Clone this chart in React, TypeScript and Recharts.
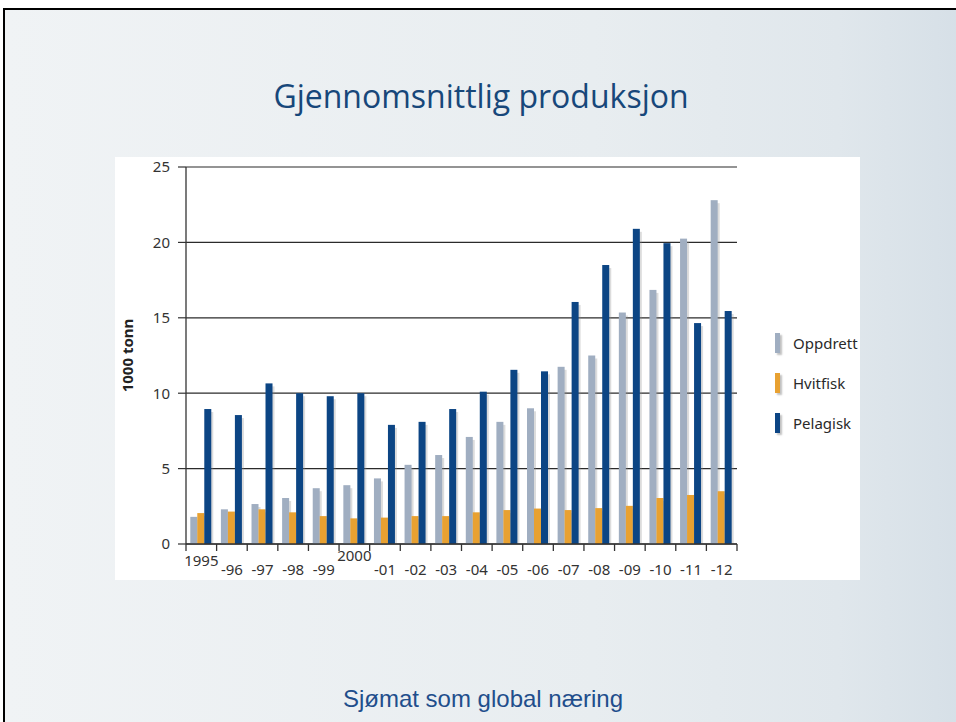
import React from 'react';
import { BarChart, Bar, XAxis, YAxis, CartesianGrid, Legend } from 'recharts';

const categories = ['1995', '-96', '-97', '-98', '-99', '2000', '-01', '-02', '-03', '-04', '-05', '-06', '-07', '-08', '-09', '-10', '-11', '-12'];
const oppdrett = [1.8, 2.3, 2.65, 3.05, 3.7, 3.9, 4.35, 5.25, 5.9, 7.1, 8.1, 9.0, 11.75, 12.5, 15.35, 16.85, 20.25, 22.8];
const hvitfisk = [2.05, 2.15, 2.3, 2.1, 1.85, 1.7, 1.75, 1.85, 1.85, 2.1, 2.25, 2.35, 2.25, 2.38, 2.53, 3.05, 3.25, 3.5];
const pelagisk = [8.95, 8.55, 10.65, 10.0, 9.8, 10.0, 7.9, 8.1, 8.95, 10.1, 11.55, 11.45, 16.05, 18.5, 20.9, 19.95, 14.65, 15.45];
const yTicks = [0, 5, 10, 15, 20, 25];
const raisedLabels = ['1995', '2000'];

const seriesNames = ['Oppdrett', 'Hvitfisk', 'Pelagisk'];
const seriesColors = ['#a0aec1', '#e8a131', '#0c4584'];

const data = categories.map((c, i) => ({
  year: c,
  Oppdrett: oppdrett[i],
  Hvitfisk: hvitfisk[i],
  Pelagisk: pelagisk[i],
}));

const FONT = '"Noto Sans", "Open Sans", sans-serif';

const ShadowBar = (props: any) => {
  const { x, y, width, height, fill } = props;
  if (!height || height <= 0) return null;
  return (
    <g>
      <rect x={x + 2} y={y + 3} width={width} height={Math.max(0, height - 3)} fill="#8c8c8c" opacity={0.3} />
      <rect x={x} y={y} width={width} height={height} fill={fill} />
    </g>
  );
};

const XTick = (props: any) => {
  const { x, y, payload, index } = props;
  const off = payload && typeof payload.offset === 'number' && payload.offset > 0 ? payload.offset : 15.3;
  const label = String(payload.value);
  const raised = raisedLabels.includes(label);
  const dy = label === '1995' ? 22 : raised ? 17 : 31;
  return (
    <g>
      {index === 0 && <line x1={x - off} x2={x - off} y1={y} y2={y + 7} stroke="#333" strokeWidth={1.3} />}
      <line x1={x + off} x2={x + off} y1={y} y2={y + 7} stroke="#333" strokeWidth={1.3} />
      <text x={x} y={y + dy} textAnchor="middle" fontSize={15} fontFamily={FONT} fill="#333">
        {label}
      </text>
    </g>
  );
};

const LegendContent = () => (
  <div style={{ fontFamily: FONT, fontSize: 15, color: '#2a2a2a' }}>
    {seriesNames.map((n, i) => (
      <div key={n} style={{ display: 'flex', alignItems: 'center', height: 40 }}>
        <div style={{ width: 5, height: 20, background: seriesColors[i], boxShadow: '2px 2px 2px rgba(0,0,0,0.25)', marginRight: 13 }} />
        <span>{n}</span>
      </div>
    ))}
  </div>
);

export default function App() {
  return (
    <div style={{ position: 'absolute', left: 0, top: 0, width: 956, height: 722, overflow: 'hidden', background: '#ffffff' }}>
      <div
        style={{
          position: 'absolute',
          left: 3,
          top: 8,
          width: 980,
          height: 740,
          borderLeft: '2px solid #000',
          borderTop: '2px solid #000',
          background: 'linear-gradient(90deg, #f0f3f5 0%, #e8edf0 60%, #e0e7ec 85%, #d4dee6 100%)',
        }}
      />
      <div
        style={{
          position: 'absolute',
          left: 0,
          width: 962,
          top: 74,
          textAlign: 'center',
          fontFamily: '"Comic Sans MS", "Open Sans", sans-serif',
          fontSize: 32,
          color: '#17477a',
        }}
      >
        Gjennomsnittlig produksjon
      </div>
      <div style={{ position: 'absolute', left: 115, top: 157, width: 745, height: 423, background: '#ffffff' }}>
        <BarChart
          width={745}
          height={423}
          data={data}
          margin={{ top: 10, right: 33, left: 0, bottom: 0 }}
          barCategoryGap="14%"
          barGap={0}
        >
          <CartesianGrid horizontal={true} vertical={false} stroke="#2b2b2b" strokeWidth={1.2} />
          <XAxis
            dataKey="year"
            height={36}
            tickSize={0}
            tickMargin={0}
            tickLine={false}
            interval={0}
            axisLine={{ stroke: '#333', strokeWidth: 1.3 }}
            tick={<XTick />}
          />
          <YAxis
            width={71}
            domain={[0, 25]}
            ticks={yTicks}
            interval={0}
            tickSize={8}
            tickMargin={8}
            axisLine={{ stroke: '#333', strokeWidth: 1.3 }}
            tickLine={{ stroke: '#333', strokeWidth: 1.2 }}
            tick={{ fontSize: 15, fontFamily: FONT, fill: '#333' }}
            label={{
              value: '1000 tonn',
              angle: -90,
              position: 'insideLeft',
              offset: 13,
              style: { fontSize: 15, fontWeight: 'bold', fontFamily: FONT, fill: '#222', textAnchor: 'middle' },
            }}
          />
          <Legend
            layout="vertical"
            align="right"
            verticalAlign="top"
            content={<LegendContent />}
            wrapperStyle={{ position: 'absolute', left: 660, top: 166, width: 90 }}
          />
          {seriesNames.map((n, i) => (
            <Bar key={n} dataKey={n} fill={seriesColors[i]} isAnimationActive={false} shape={<ShadowBar />} />
          ))}
        </BarChart>
      </div>
      <div
        style={{
          position: 'absolute',
          left: 0,
          width: 966,
          top: 685,
          textAlign: 'center',
          fontFamily: '"Liberation Sans", Arial, sans-serif',
          fontSize: 24,
          color: '#1f4e8c',
        }}
      >
        Sjømat som global næring
      </div>
    </div>
  );
}
